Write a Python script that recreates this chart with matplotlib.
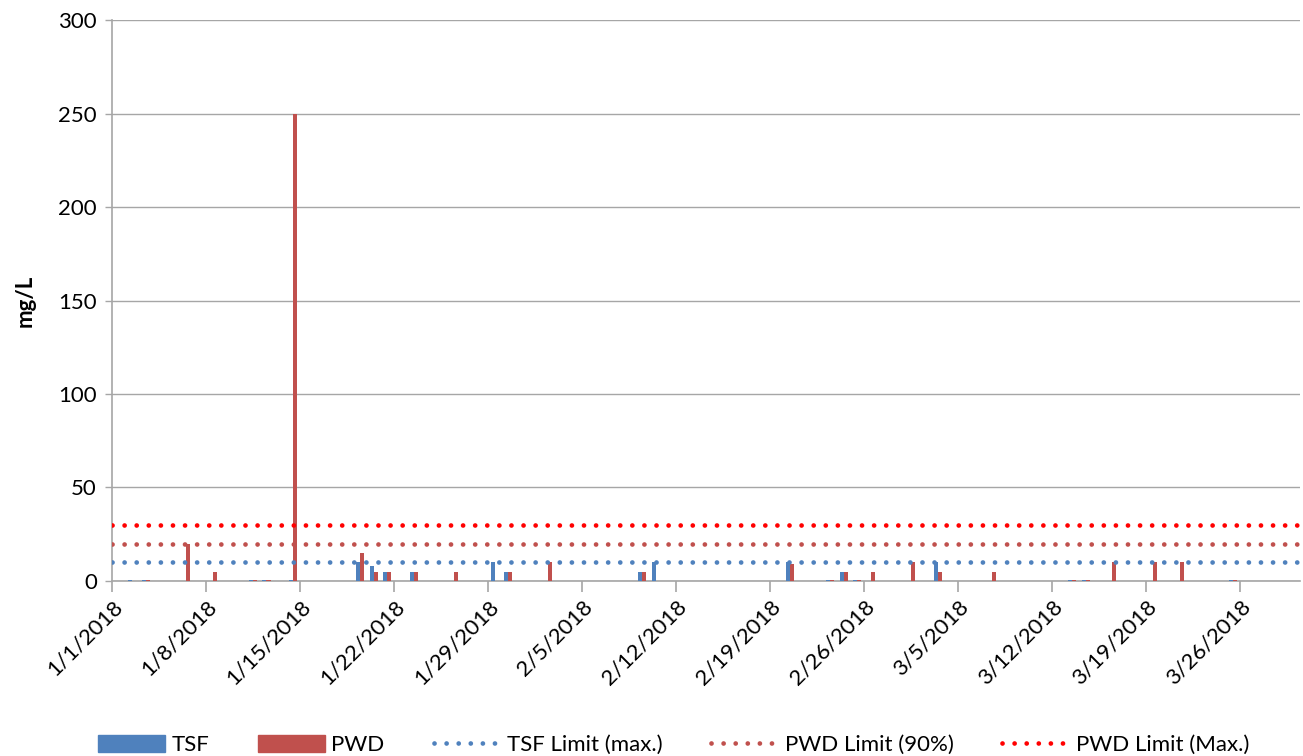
import numpy as np
import pandas as pd
import matplotlib
matplotlib.use("Agg")
import matplotlib.pyplot as plt
from matplotlib.patches import Patch
from matplotlib.lines import Line2D

plt.rcParams['font.family'] = ['Lato', 'DejaVu Sans']

# sample results (mg/L)
tsf_dates = ["2018-01-02", "2018-01-03", "2018-01-11", "2018-01-12", "2018-01-14",
             "2018-01-19", "2018-01-20", "2018-01-21", "2018-01-23", "2018-01-29",
             "2018-01-30", "2018-02-09", "2018-02-10", "2018-02-20", "2018-02-23",
             "2018-02-24", "2018-02-25", "2018-03-03", "2018-03-13", "2018-03-14",
             "2018-03-25"]
tsf_vals = [0.5, 0.5, 0.5, 0.5, 0.5,
            10, 8, 5, 5, 10,
            5, 5, 10, 10, 0.5,
            5, 0.5, 10, 0.5, 0.5,
            0.5]

pwd_dates = ["2018-01-03", "2018-01-06", "2018-01-08", "2018-01-11", "2018-01-12",
             "2018-01-14", "2018-01-19", "2018-01-20", "2018-01-21", "2018-01-23",
             "2018-01-26", "2018-01-30", "2018-02-02", "2018-02-09", "2018-02-20",
             "2018-02-23", "2018-02-24", "2018-02-25", "2018-02-26", "2018-03-01",
             "2018-03-03", "2018-03-07", "2018-03-13", "2018-03-14", "2018-03-16",
             "2018-03-19", "2018-03-21", "2018-03-25"]
pwd_vals = [0.5, 20, 5, 0.5, 0.5,
            250, 15, 5, 5, 5,
            5, 5, 10, 5, 9,
            0.5, 5, 0.5, 5, 10,
            5, 5, 0.5, 0.5, 10,
            10, 10, 0.5]

tsf_limit = 10
pwd_limit_90 = 20
pwd_limit_max = 30

start = pd.Timestamp("2018-01-01")
tick_labels = ["1/1/2018", "1/8/2018", "1/15/2018", "1/22/2018", "1/29/2018",
               "2/5/2018", "2/12/2018", "2/19/2018", "2/26/2018", "3/5/2018",
               "3/12/2018", "3/19/2018", "3/26/2018"]

def day_index(dates):
    return np.array([(pd.Timestamp(d) - start).days for d in dates])

tsf_x = day_index(tsf_dates)
pwd_x = day_index(pwd_dates)

blue = "#4F81BD"
red = "#C0504D"
bright = "#FF0000"
grid_c = "#A6A6A6"
fs = 16

fig = plt.figure(figsize=(13.03, 7.56), dpi=100)
ax = fig.add_axes([0.086, 0.2315, 0.912, 0.742])

w = 0.3
ax.bar(tsf_x - w / 2, tsf_vals, width=w, color=blue, zorder=3)
ax.bar(pwd_x + w / 2, pwd_vals, width=w, color=red, zorder=3)

xmin, xmax = -0.5, 88.0
dot = dict(lw=3.4, linestyle=(0, (0.01, 2.55)), dash_capstyle='round', zorder=4)
ax.plot([xmin, xmax], [tsf_limit] * 2, color=blue, **dot)
ax.plot([xmin, xmax], [pwd_limit_90] * 2, color=red, **dot)
ax.plot([xmin, xmax], [pwd_limit_max] * 2, color=bright, **dot)

ax.set_xlim(xmin, xmax)
ax.set_ylim(0, 300)
ax.set_yticks(np.arange(0, 301, 50))
ax.yaxis.grid(True, color=grid_c, lw=1)
ax.set_axisbelow(True)

ticks = np.arange(len(tick_labels)) * 7 - 0.5
ax.set_xticks(ticks)
ax.set_xticklabels(tick_labels, rotation=45, ha='right', va='top',
                   rotation_mode='anchor', fontsize=fs)
ax.tick_params(axis='x', length=8, color=grid_c, width=1.2, pad=3)
ax.tick_params(axis='y', length=5, color=grid_c, width=1, labelsize=fs, pad=6)

for s in ['top', 'right']:
    ax.spines[s].set_visible(False)
for s in ['left', 'bottom']:
    ax.spines[s].set_color(grid_c)
    ax.spines[s].set_linewidth(1.2)

ax.set_ylabel("mg/L", fontsize=fs, fontweight='bold', labelpad=16)

handles = [
    Patch(color=blue, label="TSF"),
    Patch(color=red, label="PWD"),
    Line2D([], [], color=blue, label="TSF Limit (max.)", **dot),
    Line2D([], [], color=red, label="PWD Limit (90%)", **dot),
    Line2D([], [], color=bright, label="PWD Limit (Max.)", **dot),
]
fig.legend(handles=handles, loc='center', bbox_to_anchor=(0.517, 0.015), ncol=5,
           frameon=False, fontsize=fs, handlelength=3.0, handleheight=0.8,
           columnspacing=2.2, handletextpad=0.3)

fig.savefig("out.png", dpi=100)
